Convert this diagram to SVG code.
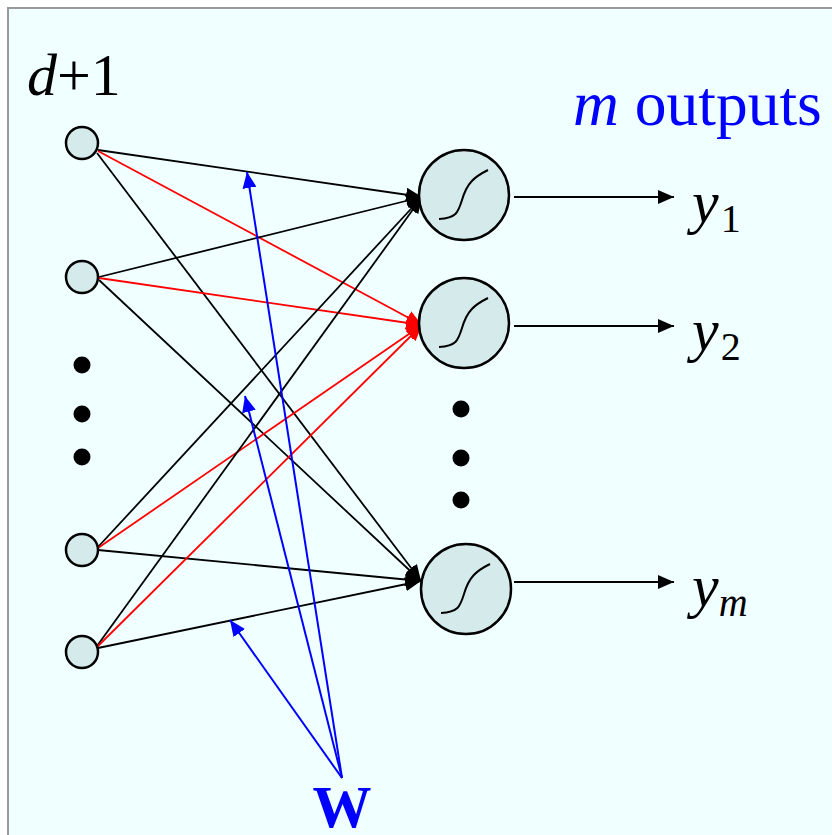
<svg xmlns="http://www.w3.org/2000/svg" width="832" height="835" viewBox="0 0 832 835">
<style>
.node{fill:#d5eaea;stroke:#000;stroke-width:2.5}
.sig{fill:none;stroke:#000;stroke-width:2}
.k{stroke:#000;stroke-width:1.8;fill:none}
.r{stroke:#ff0000;stroke-width:1.8;fill:none}
.b{stroke:#0000ff;stroke-width:2;fill:none}
.dot{fill:#000}
text{font-family:'Liberation Serif','Times New Roman',serif}
</style>
<defs>
<marker id="ak" markerUnits="userSpaceOnUse" markerWidth="18" markerHeight="14" refX="16" refY="7" orient="auto"><path d="M0,0 L16,7 L0,14 Z" fill="#000"/></marker>
<marker id="ar" markerUnits="userSpaceOnUse" markerWidth="18" markerHeight="14" refX="16" refY="7" orient="auto"><path d="M0,0 L16,7 L0,14 Z" fill="#ff0000"/></marker>
<marker id="ab" markerUnits="userSpaceOnUse" markerWidth="18" markerHeight="14" refX="16" refY="7" orient="auto"><path d="M0,0 L16,7 L0,14 Z" fill="#0000ff"/></marker>
<path id="sg" d="M-25,24 C-8,23 -6,18 -2,5 C3,-12 10,-18 24,-25"/>
</defs>
<rect x="8" y="8" width="840" height="840" fill="#f0ffff" stroke="#999" stroke-width="2"/>
<g id="connectors">
<line class="k" x1="98" y1="150" x2="422" y2="197" marker-end="url(#ak)"/>
<line class="r" x1="98" y1="151" x2="422" y2="325" marker-end="url(#ar)"/>
<line class="k" x1="97" y1="153" x2="421" y2="581" marker-end="url(#ak)"/>
<line class="k" x1="99" y1="277" x2="422" y2="197" marker-end="url(#ak)"/>
<line class="r" x1="99" y1="278" x2="422" y2="325" marker-end="url(#ar)"/>
<line class="k" x1="99" y1="280" x2="421" y2="581" marker-end="url(#ak)"/>
<line class="k" x1="98" y1="547" x2="422" y2="197" marker-end="url(#ak)"/>
<line class="r" x1="98" y1="548" x2="422" y2="325" marker-end="url(#ar)"/>
<line class="k" x1="98" y1="550" x2="421" y2="581" marker-end="url(#ak)"/>
<line class="k" x1="97" y1="646" x2="422" y2="197" marker-end="url(#ak)"/>
<line class="r" x1="97" y1="647" x2="422" y2="325" marker-end="url(#ar)"/>
<line class="k" x1="98" y1="648" x2="421" y2="581" marker-end="url(#ak)"/>
<line class="k" x1="514" y1="197" x2="674" y2="197" marker-end="url(#ak)"/>
<line class="k" x1="514" y1="326" x2="674" y2="326" marker-end="url(#ak)"/>
<line class="k" x1="514" y1="582" x2="674" y2="582" marker-end="url(#ak)"/>
<line class="b" x1="342" y1="778" x2="247" y2="172" marker-end="url(#ab)"/>
<line class="b" x1="342" y1="778" x2="245" y2="396" marker-end="url(#ab)"/>
<line class="b" x1="342" y1="778" x2="230" y2="620" marker-end="url(#ab)"/>
</g>
<g id="in1"><circle class="node" cx="82" cy="143" r="16"/></g>
<g id="in2"><circle class="node" cx="82" cy="277" r="16"/></g>
<g id="in3"><circle class="node" cx="82" cy="550" r="16"/></g>
<g id="in4"><circle class="node" cx="82" cy="652" r="16"/></g>
<g id="in-dots"><circle class="dot" cx="82" cy="365" r="8.5"/><circle class="dot" cx="82" cy="414" r="8.5"/><circle class="dot" cx="82" cy="457" r="8.5"/></g>
<g id="out1"><circle class="node" cx="464" cy="195" r="45"/><use href="#sg" class="sig" transform="translate(464,195)"/></g>
<g id="out2"><circle class="node" cx="464" cy="323" r="45"/><use href="#sg" class="sig" transform="translate(464,323)"/></g>
<g id="out3"><circle class="node" cx="466" cy="589" r="45"/><use href="#sg" class="sig" transform="translate(466,589)"/></g>
<g id="out-dots"><circle class="dot" cx="461" cy="409" r="8.5"/><circle class="dot" cx="461" cy="458" r="8.5"/><circle class="dot" cx="461" cy="500" r="8.5"/></g>
<g id="labels">
<text x="27" y="95" font-size="60"><tspan font-style="italic">d</tspan>+1</text>
<text x="573" y="125" font-size="63.5" fill="#0000ff"><tspan font-style="italic">m</tspan> outputs</text>
<text x="692" y="222" font-size="60"><tspan font-style="italic">y</tspan><tspan font-size="40" dx="2" dy="10">1</tspan></text>
<text x="692" y="350" font-size="60"><tspan font-style="italic">y</tspan><tspan font-size="40" dx="2" dy="10">2</tspan></text>
<text x="692" y="606" font-size="60"><tspan font-style="italic">y</tspan><tspan font-size="40" dx="0" dy="10" font-style="italic">m</tspan></text>
<text x="342" y="827" font-size="59" font-weight="bold" fill="#0000ff" text-anchor="middle">W</text>
</g>
</svg>
